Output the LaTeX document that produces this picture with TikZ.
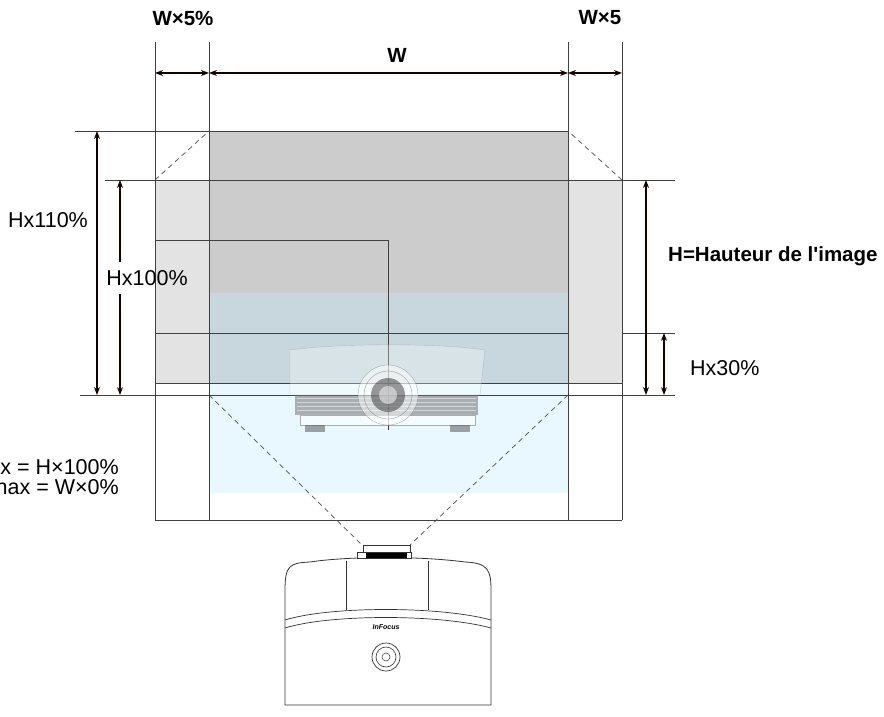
\documentclass[tikz,border=0pt]{standalone}
\usepackage{fontspec}
\setmainfont{Liberation Sans}
\usetikzlibrary{arrows.meta}
\begin{document}
\begin{tikzpicture}[x=1pt,y=-1pt,
  thin/.style={line width=0.6pt,draw=black!75},
  dim/.style={line width=1.1pt,draw=black!80!red!40!black,{Stealth[length=8pt,width=6pt]}-{Stealth[length=8pt,width=6pt]}},
  dsh/.style={line width=0.7pt,draw=black!70,dash pattern=on 5pt off 4pt},
  lab/.style={font=\fontsize{21.5}{24}\selectfont,inner sep=1pt},
  blab/.style={font=\bfseries\fontsize{20.5}{24}\selectfont,inner sep=1pt}]
\path[use as bounding box] (0,0) rectangle (884,717);
% fills
\fill[black!11] (155,180) rectangle (622,383);
\fill[black!20] (209,131) rectangle (568,383);
\fill[blue!30!cyan!25,opacity=0.35] (209,293) rectangle (568,493);
% lines
\draw[thin] (75,131) -- (568,131);
\draw[thin] (105,180) -- (675,180);
\draw[thin] (155,240) -- (388,240) -- (388,430);
\draw[thin] (155,333) -- (568,333);
\draw[thin] (622,333) -- (675,333);
\draw[thin] (155,383) -- (622,383);
\draw[thin] (80,395) -- (675,395);
\draw[thin] (155,520) -- (622,520);
\foreach \x in {155,209,568,622} \draw[thin] (\x,42) -- (\x,520);
\draw[dsh] (155,180) -- (209,131);
\draw[dsh] (622,180) -- (568,131);
% small projector (faded)
\begin{scope}[opacity=0.5]
\draw[black!40,fill=white,fill opacity=0.3] (290,350) .. controls (340,343) and (440,343) .. (485,350) -- (480,395) -- (290,395) -- cycle;
\fill[black!60] (295,395) rectangle (478,415);
\foreach \y in {398,402,406,410} \draw[white,line width=0.4pt] (297,\y) -- (476,\y);
\draw[black!60,fill=white] (300,415) rectangle (475,425);
\fill[black!70] (305,425) rectangle (325,432);
\fill[black!70] (450,425) rectangle (470,432);
\draw[black!60,fill=white] (388,395) circle (30);
\draw[black!70] (388,395) circle (24);
\fill[black!80] (388,395) circle (17);
\fill[white] (388,395) circle (9);
\end{scope}
\draw[dsh] (209,395) -- (362,545);
\draw[dsh] (568,395) -- (410,545);
% dimensions
\node[blab] (w5l) at (183,18) {W×5\%};
\node[blab] (w) at (397,55) {W};
\node[blab] (w5r) at (600,18) {W×5};
\coordinate (a1) at (155,73); \coordinate (a2) at (209,73);
\coordinate (a3) at (568,73); \coordinate (a4) at (622,73);
\draw[dim] (a1) -- (a2); \draw[dim] (a2) -- (a3); \draw[dim] (a3) -- (a4);
\coordinate (l1) at (97,131); \coordinate (l2) at (97,395);
\draw[dim] (l1) -- (l2);
\node[lab] (h110) at (48,220) {Hx110\%};
\node[lab,inner ysep=8pt] (h100) at (147,278) {Hx100\%};
\coordinate (m1) at (120,180); \coordinate (m2) at (120,395);
\draw[dim,-{Stealth[length=8pt,width=6pt]}] (h100.north -| m1) -- (m1);
\draw[dim,-{Stealth[length=8pt,width=6pt]}] (h100.south -| m2) -- (m2);
\coordinate (r1) at (646,180); \coordinate (r2) at (646,395);
\draw[dim] (r1) -- (r2);
\coordinate (s1) at (664,333); \coordinate (s2) at (664,395);
\draw[dim] (s1) -- (s2);
\node[blab,anchor=west] (hh) at (667,256) {H=Hauteur de l\textquotesingle image};
\node[lab,anchor=west] (h30) at (689,368) {Hx30\%};
\node[lab,anchor=east] (t1) at (120,467) {x = H×100\%};
\node[lab,anchor=east] (t2) at (120,487) {nax = W×0\%};
% big projector
\draw[black!80,line width=0.8pt,fill=white] (285,705) -- (285,590) .. controls (285,565) and (290,563) .. (310,562)
  .. controls (350,556) and (420,556) .. (465,562) .. controls (488,563) and (491,570) .. (491,590) -- (491,705) -- cycle;
\draw[black!80,line width=0.8pt,fill=white] (357,558) rectangle (411,552);
\fill[black] (366,552) rectangle (407,558);
\draw[black!80,line width=0.8pt,fill=white] (363,545) rectangle (410,552);
\draw[black!80,line width=0.7pt] (346,561) -- (346,610);
\draw[black!80,line width=0.7pt] (428,561) -- (428,610);
\draw[black!80,line width=0.7pt] (285,620) .. controls (330,606) and (440,606) .. (491,620);
\draw[black!80,line width=0.7pt] (285,628) .. controls (330,614) and (440,614) .. (491,628);
\node[font=\bfseries\itshape\fontsize{7}{8}\selectfont,inner sep=0pt] (logo) at (386,627) {InFocus};
\draw[black!80,line width=0.7pt] (386,657) circle (14);
\draw[black!80,line width=0.6pt] (386,657) circle (10);
\draw[black!80,line width=0.5pt] (386,657) circle (4);
\end{tikzpicture}
\end{document}
